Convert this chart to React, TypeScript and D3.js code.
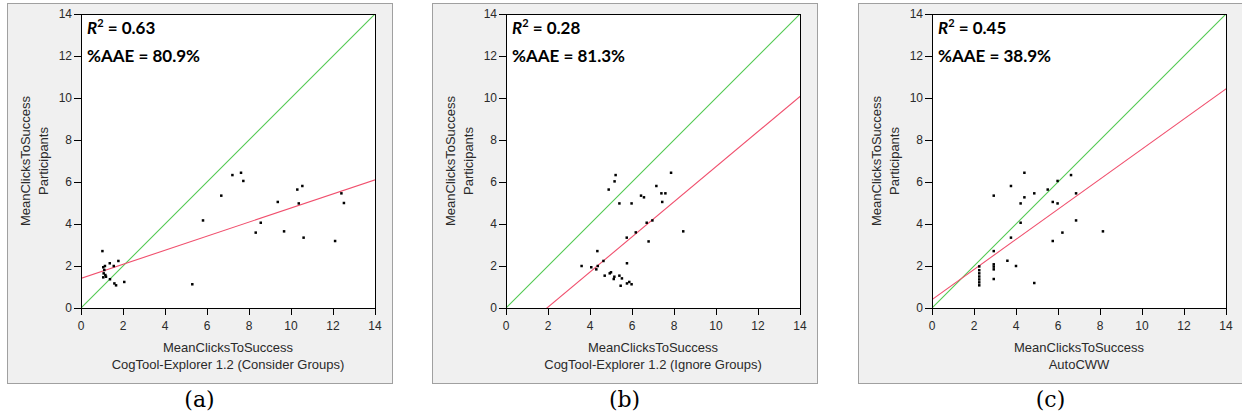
import React from "react";
import * as d3 from "d3";

// ---------- data ----------
const ticks = [0, 2, 4, 6, 8, 10, 12, 14];

const aX = [1.02, 1.06, 1.14, 1.11, 1.08, 1.16, 1.06, 1.19, 1.37, 1.56, 1.38, 1.59, 1.67, 1.78, 2.06, 5.3, 5.81, 6.68, 7.21, 7.62, 7.73, 8.32, 8.56, 9.37, 9.67, 10.3, 10.54, 10.37, 10.6, 12.1, 12.4, 12.52];
const aY = [2.71, 1.94, 2.0, 1.81, 1.65, 1.57, 1.46, 1.49, 2.13, 2.0, 1.37, 1.17, 1.08, 2.24, 1.24, 1.13, 4.17, 5.35, 6.33, 6.44, 6.05, 3.59, 4.06, 5.05, 3.65, 5.64, 5.81, 4.98, 3.35, 3.19, 5.46, 5.0];

const bX = [3.6, 4.06, 4.3, 4.37, 4.35, 4.64, 4.7, 4.94, 5.0, 5.13, 5.16, 5.4, 5.52, 5.46, 5.76, 5.76, 5.87, 5.98, 5.75, 6.18, 6.7, 6.97, 6.79, 5.4, 4.89, 5.17, 5.22, 5.98, 6.43, 6.57, 7.16, 7.4, 7.59, 7.44, 7.86, 8.44];
const bY = [2.0, 1.94, 1.84, 2.0, 2.71, 2.24, 1.54, 1.65, 1.7, 1.38, 1.49, 1.54, 1.41, 1.06, 2.13, 1.17, 1.24, 1.13, 3.35, 3.6, 4.06, 4.17, 3.17, 4.98, 5.64, 6.03, 6.33, 4.98, 5.35, 5.27, 5.81, 5.46, 5.46, 5.05, 6.44, 3.65];

const cX = [2.25, 2.25, 2.25, 2.25, 2.25, 2.25, 2.25, 2.94, 2.94, 2.94, 2.94, 2.94, 2.94, 3.59, 3.76, 3.76, 4.0, 4.22, 4.22, 4.4, 4.4, 4.87, 4.87, 5.51, 5.75, 5.75, 5.98, 5.98, 6.21, 6.62, 6.86, 6.86, 8.14];
const cY = [1.98, 1.8, 1.65, 1.5, 1.36, 1.22, 1.08, 2.71, 2.08, 1.97, 1.84, 1.38, 5.35, 2.25, 3.35, 5.81, 2.0, 4.06, 4.98, 5.27, 6.44, 5.46, 1.19, 5.64, 3.19, 5.05, 4.98, 6.05, 3.59, 6.33, 5.46, 4.17, 3.65];

// regression fits: [intercept, slope]
const aFit = [1.41, 0.335];
const bFit = [-1.63, 0.836];
const cFit = [0.4, 0.717];

const r2Values = ["0.63", "0.28", "0.45"];
const aaeValues = ["80.9%", "81.3%", "38.9%"];
const xSubtitles = [
  "CogTool-Explorer 1.2 (Consider Groups)",
  "CogTool-Explorer 1.2 (Ignore Groups)",
  "AutoCWW",
];
const captions = ["(a)", "(b)", "(c)"];

const panelData = [
  { xs: aX, ys: aY, fit: aFit },
  { xs: bX, ys: bY, fit: bFit },
  { xs: cX, ys: cY, fit: cFit },
];

// ---------- layout ----------
const frameLefts = [7, 432, 858];
const frameTop = 3;
const frameW = 385;
const frameH = 380;
const plotOffset = 74;
const plotTop = 14;
const plotSize = 294;

const tickFont = "'Liberation Sans', Arial, sans-serif";
const textColor = "#2a2a2a";
const greenColor = "rgb(80,200,80)";
const redColor = "rgb(240,80,110)";

function Panel({ i }: { i: number }) {
  const fx = frameLefts[i];
  const left = fx + plotOffset;
  const right = left + plotSize;
  const top = plotTop;
  const bottom = top + plotSize;
  const x = d3.scaleLinear().domain([0, 14]).range([left, right]);
  const y = d3.scaleLinear().domain([0, 14]).range([bottom, top]);
  const { xs, ys, fit } = panelData[i];
  const fitLine = d3
    .line<number>()
    .x((d) => x(d))
    .y((d) => y(fit[0] + fit[1] * d));
  const clipId = `plotclip-${i}`;
  const cx = (left + right) / 2;
  const cy = (top + bottom) / 2;
  return (
    <g>
      <rect x={fx + 0.5} y={frameTop + 0.5} width={frameW} height={frameH} fill="#f0f0f0" stroke="#a0a0a0" />
      <clipPath id={clipId}>
        <rect x={left} y={top} width={plotSize} height={plotSize} />
      </clipPath>
      <rect x={left} y={top} width={plotSize} height={plotSize} fill="#ffffff" />
      <g clipPath={`url(#${clipId})`}>
        <line x1={x(0)} y1={y(0)} x2={x(14)} y2={y(14)} style={{ stroke: greenColor, strokeWidth: 1.1 }} />
        <path d={fitLine([-2, 16]) || ""} style={{ stroke: redColor, strokeWidth: 1.1, fill: "none" }} />
        {xs.map((v, k) => (
          <rect key={k} x={x(v) - 1.25} y={y(ys[k]) - 1.25} width={2.5} height={2.5} fill="#000" />
        ))}
      </g>
      <rect x={left + 0.5} y={top + 0.5} width={plotSize} height={plotSize} fill="none" stroke="#000" strokeWidth={1} />
      {ticks.map((t) => (
        <g key={"y" + t}>
          <line x1={left - 7} x2={left} y1={Math.round(y(t)) + 0.5} y2={Math.round(y(t)) + 0.5} stroke="#000" />
          <text x={left - 9} y={y(t)} dy="0.35em" textAnchor="end" fontSize={12} fontFamily={tickFont} fill={textColor}>
            {t}
          </text>
        </g>
      ))}
      {ticks.map((t) => (
        <g key={"x" + t}>
          <line x1={Math.round(x(t)) + 0.5} x2={Math.round(x(t)) + 0.5} y1={bottom} y2={bottom + 7} stroke="#000" />
          <text x={x(t)} y={330} textAnchor="middle" fontSize={12} fontFamily={tickFont} fill={textColor}>
            {t}
          </text>
        </g>
      ))}
      <text x={cx} y={352} textAnchor="middle" fontSize={13} fontFamily={tickFont} fill={textColor}>
        MeanClicksToSuccess
      </text>
      <text x={cx} y={369} textAnchor="middle" fontSize={13} fontFamily={tickFont} fill={textColor}>
        {xSubtitles[i]}
      </text>
      <text transform={`translate(${fx + 23},${cy}) rotate(-90)`} textAnchor="middle" fontSize={13} fontFamily={tickFont} fill={textColor}>
        MeanClicksToSuccess
      </text>
      <text transform={`translate(${fx + 40.5},${cy}) rotate(-90)`} textAnchor="middle" fontSize={13} fontFamily={tickFont} fill={textColor}>
        Participants
      </text>
      <text x={left + 6} y={34} fontSize={17} fontWeight="bold" fontFamily="Lato, 'Open Sans', sans-serif" fill="#000">
        <tspan fontStyle="italic">R</tspan>
        <tspan dy={-7} fontSize={11}>2</tspan>
        <tspan dy={7}>{" = " + r2Values[i]}</tspan>
      </text>
      <text x={left + 6} y={62} fontSize={17} fontWeight="bold" fontFamily="Lato, 'Open Sans', sans-serif" fill="#000">
        {"%AAE = " + aaeValues[i]}
      </text>
      <text x={fx + frameW / 2} y={407} textAnchor="middle" fontSize={22} fontFamily="'DejaVu Serif', 'Liberation Serif', serif" fill="#000">
        {captions[i]}
      </text>
    </g>
  );
}

export default function App() {
  return (
    <svg width={1242} height={420} style={{ position: "absolute", left: 0, top: 0, background: "#fff" }}>
      <rect width={1242} height={420} fill="#fff" />
      {[0, 1, 2].map((i) => (
        <Panel key={i} i={i} />
      ))}
    </svg>
  );
}
